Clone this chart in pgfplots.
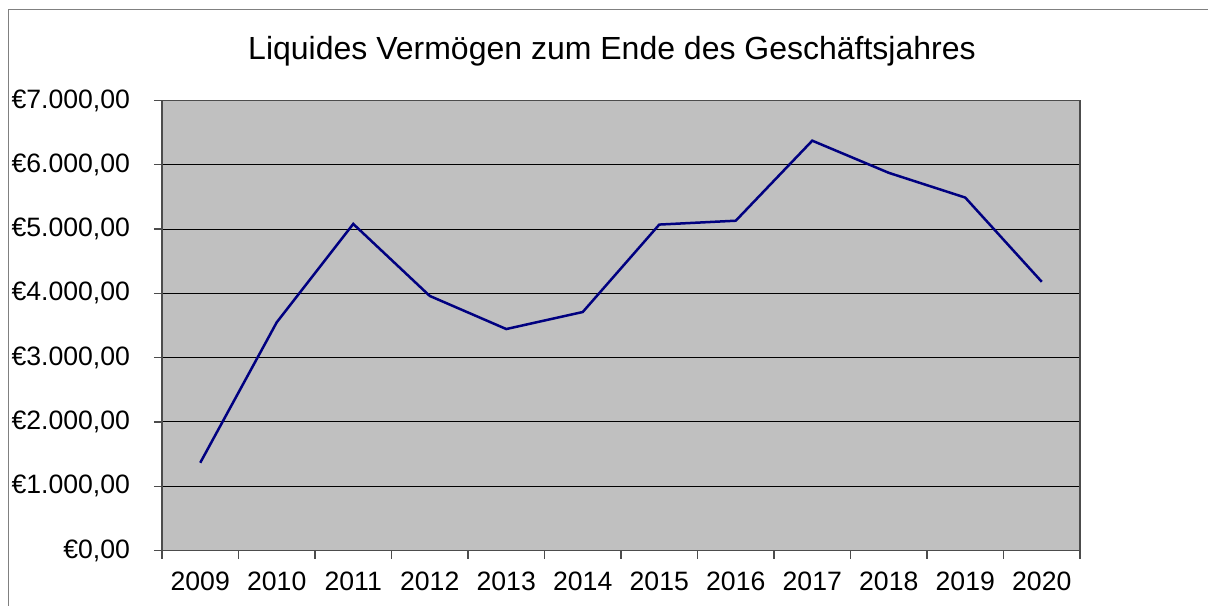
\documentclass[border=0pt]{standalone}
\usepackage{pgfplots}
\pgfplotsset{compat=1.18}
\usepackage{fontspec}
\setmainfont{Liberation Sans}
\definecolor{plotgray}{RGB}{192,192,192}
\definecolor{navyline}{RGB}{0,0,128}
\definecolor{framegray}{RGB}{128,128,128}
\begin{document}
\begin{tikzpicture}
  % 1 px = 0.5 pt
  \useasboundingbox (0,0) rectangle (604pt,302.5pt);
  \draw[framegray, line width=0.9pt] (4.25pt,-2pt) -- (4.25pt,297.75pt) -- (610pt,297.75pt);
  \node[anchor=base, font=\fontsize{16}{19}\selectfont] at (306pt,272.7pt)
    {Liquides Vermögen zum Ende des Geschäftsjahres};
  \begin{axis}[
      at={(81pt,27.25pt)}, anchor=south west,
      scale only axis,
      width=459pt, height=225pt,
      xmin=0.5, xmax=12.5,
      ymin=0, ymax=7000,
      axis background/.style={fill=plotgray},
      axis line style={draw=black!70, line width=0.8pt},
      xtick={1,...,12},
      xticklabels={2009,2010,2011,2012,2013,2014,2015,2016,2017,2018,2019,2020},
      minor xtick={0.5,1.5,...,12.5},
      ytick={0,1000,...,7000},
      yticklabels={{€0,00},{€1.000,00},{€2.000,00},{€3.000,00},{€4.000,00},{€5.000,00},{€6.000,00},{€7.000,00}},
      tick align=outside,
      tick pos=left,
      major tick length=4pt,
      minor tick length=4pt,
      x tick style={draw=none},
      minor x tick style={draw=black!70, line width=0.6pt},
      y tick style={draw=black!70, line width=0.6pt},
      ymajorgrids,
      grid style={draw=black, line width=0.5pt},
      ticklabel style={font=\fontsize{13.3}{15}\selectfont},
      yticklabel style={xshift=-8.5pt},
      xticklabel style={yshift=-3pt},
      clip=false,
    ]
    \addplot[navyline, line width=1.25pt] coordinates {
      (1,1365) (2,3550) (3,5080) (4,3960) (5,3445) (6,3710)
      (7,5070) (8,5130) (9,6375) (10,5875) (11,5490) (12,4180)
    };
  \end{axis}
\end{tikzpicture}
\end{document}
